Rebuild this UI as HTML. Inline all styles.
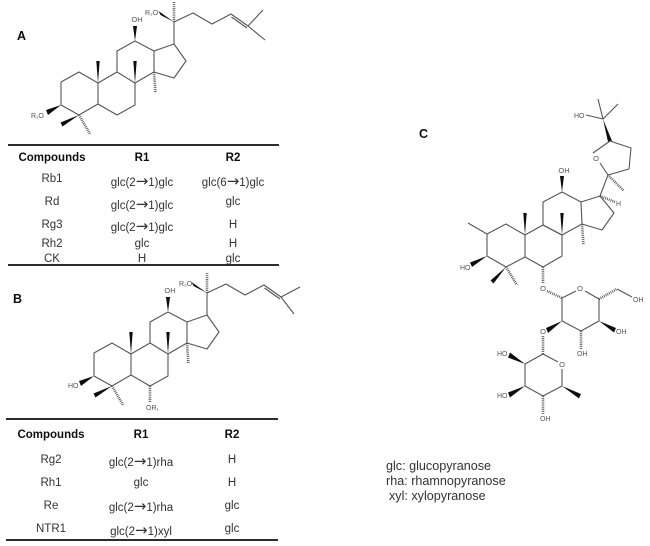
<!DOCTYPE html>
<html><head><meta charset="utf-8"><style>
html,body{margin:0;padding:0;background:#fff;width:650px;height:546px;overflow:hidden}
svg{display:block}
text{font-family:"Liberation Sans",sans-serif;fill:#333}
tspan.r{font-family:"DejaVu Sans",sans-serif;font-size:15px}
.b{stroke:#555;stroke-width:1.1;fill:none;stroke-linejoin:round}
.w{fill:#111;stroke:none}
.h{stroke:#444;stroke-width:2.6;stroke-dasharray:.8 1.1;fill:none}
.l{stroke:#111;stroke-width:1.8}
.t{font-size:11.5px;text-anchor:middle;fill:#333}
.th{font-size:11.5px;text-anchor:middle;font-weight:bold;fill:#111}
.a{font-size:7px;fill:#555}
.m{font-size:7.5px;text-anchor:middle;fill:#555}
.c{font-size:12.5px;font-weight:bold;fill:#111}
.g{font-size:12.6px;fill:#333}
</style></head><body>
<svg width="650" height="546" viewBox="0 0 650 546" xmlns="http://www.w3.org/2000/svg">
<defs>
<filter id="s" x="-5%" y="-5%" width="110%" height="110%"><feGaussianBlur stdDeviation="0.3"/></filter>
<g id="core">
<path class="b" d="M61 82L79 72L98 83L98 104L79 115L61 105Z"/>
<path class="b" d="M98 83L117 72L135 83L135 105L117 115L98 104"/>
<path class="b" d="M117 72L117 51L135 41L154 51L154 72L135 83"/>
<path class="b" d="M154 51L174 44L186 61L174 78L154 72"/>
<path class="b" d="M174 44L174 22L193 13L212 24L231 14L248 26"/>
<path class="b" d="M231.5 17L247 28"/>
<polygon class="w" points="174,22 158.5,11 160.5,15"/>
<polygon class="w" points="135,41 133,26 137,26"/>
<polygon class="w" points="98,83 96.3,61 99.7,61"/>
<polygon class="w" points="135,83 133.3,61 136.7,61"/>
<line class="h" x1="174" y1="22" x2="174" y2="2"/>
<line class="h" x1="154" y1="72" x2="155.5" y2="93"/>
<polygon class="w" points="61,105 46,110 48,115"/>
<polygon class="w" points="79,115 60.5,122.5 62.5,126.5"/>
<line class="h" x1="79" y1="115" x2="90" y2="134"/>
</g>
</defs>
<g filter="url(#s)">
<!-- A -->
<use href="#core"/>
<path class="b" d="M263 10L248 26L265 40"/>
<text class="c" x="17" y="40">A</text>
<text class="m" x="137" y="22">OH</text>
<text class="a" x="145" y="15">R₂O</text>
<text class="a" x="31" y="118">R₁O</text>

<line class="l" x1="8" y1="145" x2="279" y2="145"/>
<line class="l" x1="8" y1="265" x2="279" y2="265"/>
<text class="th" x="52" y="161">Compounds</text><text class="th" x="142" y="161">R1</text><text class="th" x="233" y="161">R2</text>
<text class="t" x="52" y="182">Rb1</text><text class="t" x="142" y="186">glc(2<tspan class="r">→</tspan>1)glc</text><text class="t" x="233" y="186">glc(6<tspan class="r">→</tspan>1)glc</text>
<text class="t" x="52" y="205">Rd</text><text class="t" x="142" y="209">glc(2<tspan class="r">→</tspan>1)glc</text><text class="t" x="233" y="205">glc</text>
<text class="t" x="52" y="228">Rg3</text><text class="t" x="142" y="231">glc(2<tspan class="r">→</tspan>1)glc</text><text class="t" x="233" y="228">H</text>
<text class="t" x="52" y="247">Rh2</text><text class="t" x="142" y="247">glc</text><text class="t" x="233" y="247">H</text>
<text class="t" x="52" y="262">CK</text><text class="t" x="142" y="262">H</text><text class="t" x="233" y="262">glc</text>

<!-- B -->
<use href="#core" x="33" y="271"/>
<path class="b" d="M300 287L281 297L294 314"/>
<line class="h" x1="150" y1="386" x2="150" y2="402"/>
<text class="c" x="13" y="303">B</text>
<text class="m" x="170" y="293">OH</text>
<text class="a" x="179" y="286">R₂O</text>
<text class="a" x="68" y="388">HO</text>
<text class="a" x="146" y="410">OR₁</text>

<line class="l" x1="6" y1="419" x2="278" y2="419"/>
<line class="l" x1="6" y1="540" x2="278" y2="540"/>
<text class="th" x="51" y="438">Compounds</text><text class="th" x="141" y="438">R1</text><text class="th" x="232" y="438">R2</text>
<text class="t" x="51" y="463">Rg2</text><text class="t" x="141" y="466">glc(2<tspan class="r">→</tspan>1)rha</text><text class="t" x="232" y="463">H</text>
<text class="t" x="51" y="486">Rh1</text><text class="t" x="141" y="486">glc</text><text class="t" x="232" y="486">H</text>
<text class="t" x="51" y="509">Re</text><text class="t" x="141" y="511">glc(2<tspan class="r">→</tspan>1)rha</text><text class="t" x="232" y="509">glc</text>
<text class="t" x="51" y="532">NTR1</text><text class="t" x="141" y="535">glc(2<tspan class="r">→</tspan>1)xyl</text><text class="t" x="232" y="532">glc</text>

<!-- C -->
<text class="c" x="419" y="138">C</text>
<path class="b" d="M586 115L603 119M598 99L603 119L618 104"/>
<polygon class="w" points="603,119 608,142 612,141"/>
<path class="b" d="M610 141L631 148L629 169L608 175L600 163M593 153L610 141"/>
<text class="m" x="596" y="161">O</text>
<text class="a" x="574" y="118">HO</text>
<line class="h" x1="608" y1="175" x2="624" y2="191"/>
<path class="b" d="M608 175L600 196L614 213L602 230L582 224L581 202L600 196"/>
<line class="h" x1="600" y1="196" x2="615" y2="202"/>
<text class="a" x="616" y="206">H</text>
<path class="b" d="M581 202L562 192L543 202L543 225L562 235L582 224"/>
<path class="b" d="M543 225L525 235L525 257L543 267L562 256L562 235L543 225"/>
<path class="b" d="M525 235L506 224L487 234L487 256L506 267L525 257M487 234L468 223"/>
<polygon class="w" points="562,192 560,176 564,176"/>
<text class="m" x="564" y="173">OH</text>
<polygon class="w" points="525,235 523.3,213 526.7,213"/>
<polygon class="w" points="562,235 560.3,213 563.7,213"/>
<line class="h" x1="582" y1="224" x2="583.5" y2="245"/>
<polygon class="w" points="487,256 470,262.5 472,267"/>
<text class="a" x="460" y="270">HO</text>
<polygon class="w" points="506,267 490.5,280.5 493.5,283.5"/>
<line class="h" x1="506" y1="267" x2="517" y2="285"/>
<line class="h" x1="543" y1="267" x2="543" y2="284"/>
<text class="m" x="543" y="291">O</text>
<line class="h" x1="547" y1="291" x2="562" y2="298"/>
<path class="b" d="M562 298L576 291M585 291L599 299L599 321L581 331L562 321L562 298"/>
<text class="m" x="580" y="291">O</text>
<line class="h" x1="599" y1="299" x2="617" y2="289"/>
<path class="b" d="M617 289L632 297"/>
<text class="a" x="633" y="302">OH</text>
<polygon class="w" points="599,321 614,332.5 616,328"/>
<text class="a" x="616" y="334">OH</text>
<line class="h" x1="581" y1="331" x2="581" y2="349"/>
<text class="a" x="577" y="356">OH</text>
<polygon class="w" points="562,321 546,328 548,333"/>
<text class="m" x="543" y="334">O</text>
<line class="h" x1="543" y1="336" x2="543" y2="354"/>
<path class="b" d="M543 354L558 362M562 369L562 386L543 396L525 386L525 364L543 354"/>
<text class="m" x="562" y="367">O</text>
<polygon class="w" points="562,386 579,398.5 581,394"/>
<line class="h" x1="543" y1="396" x2="543" y2="414"/>
<text class="a" x="540" y="421">OH</text>
<polygon class="w" points="525,386 508,392.5 510,397.5"/>
<text class="a" x="497" y="398">HO</text>
<polygon class="w" points="525,364 510,352.5 508,357.5"/>
<text class="a" x="497" y="356">HO</text>

<text class="g" x="386" y="470">glc: glucopyranose</text>
<text class="g" x="386" y="485">rha: rhamnopyranose</text>
<text class="g" x="389" y="500">xyl: xylopyranose</text>
</g>
</svg>
</body></html>
